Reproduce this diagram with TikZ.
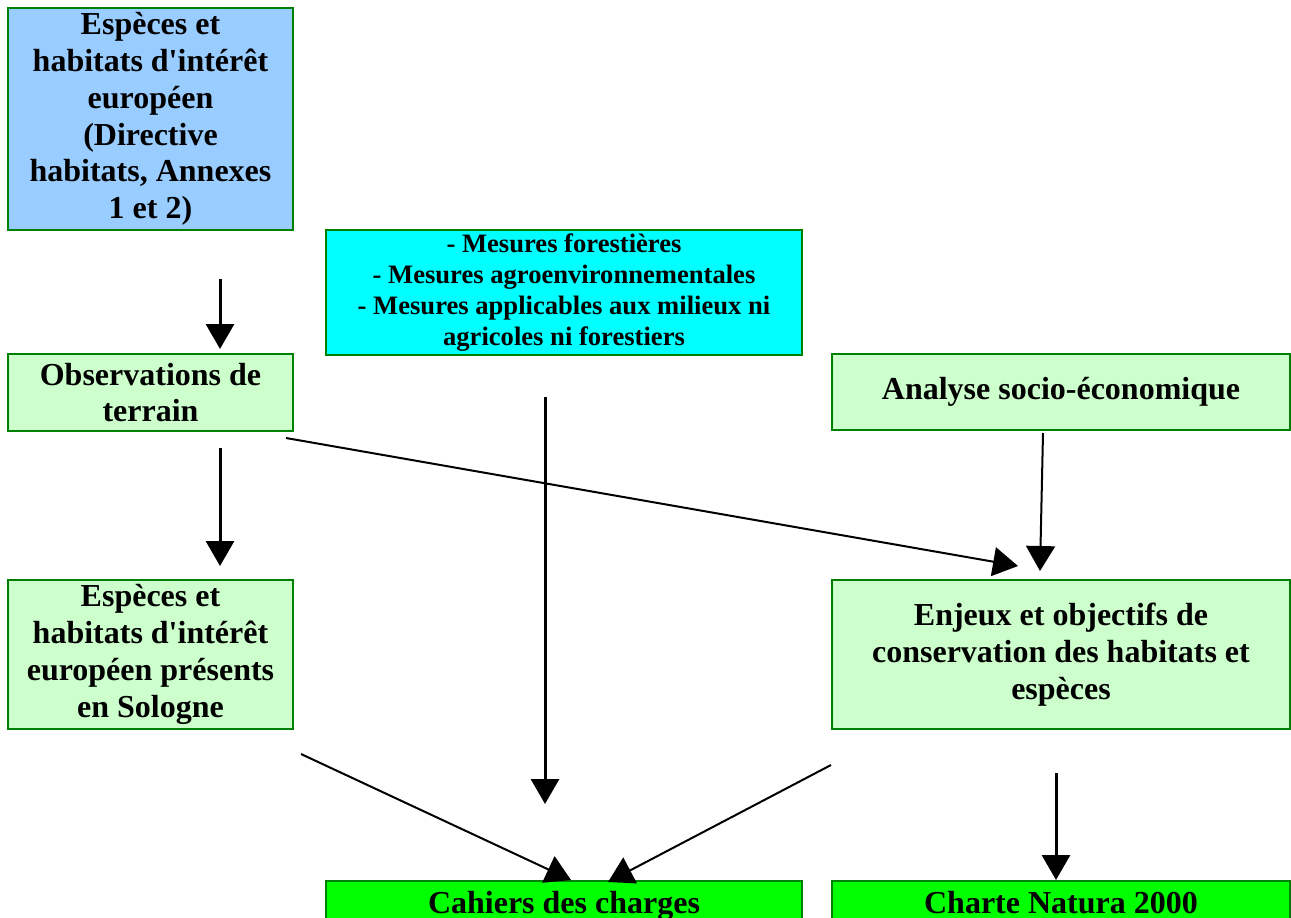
\documentclass[tikz,border=0pt]{standalone}
\usepackage{fontspec}
\setmainfont{Liberation Serif}
\usetikzlibrary{arrows.meta,calc}

\definecolor{cadre}{RGB}{0,128,0}
\definecolor{bleuclair}{HTML}{99CCFF}
\definecolor{turquoise}{HTML}{00FFFF}
\definecolor{vertpale}{HTML}{CCFFCC}
\definecolor{vertvif}{HTML}{00FF00}

\begin{document}
\begin{tikzpicture}[x=0.5pt,y=-0.5pt,
  boite/.style={draw=cadre, line width=1pt, align=center, inner sep=0pt,
    font=\fontsize{16}{18.4}\selectfont\bfseries},
  pale/.style={boite, fill=vertpale},
  vif/.style={boite, fill=vertvif, anchor=north, text height=16pt, text depth=20pt},
  fleche/.style={-{Triangle[length=12.5pt,width=14pt]}, line width=1.5pt},
  trait/.style={-{Triangle[length=12.5pt,width=14.5pt]}, line width=1pt}]
\useasboundingbox (0,0) rectangle (1291,917);

% boites
\node[boite, fill=bleuclair, minimum width=142.5pt, minimum height=111pt] (especes) at (150.5,119)
  {Espèces et\\habitats d\textquotesingle intérêt\\européen\\(Directive\\habitats, Annexes\\1 et 2)};
\node[boite, fill=turquoise, minimum width=238pt, minimum height=62.5pt,
  font=\fontsize{13.3}{15.6}\selectfont\bfseries] (mesures) at (564,292.5)
  {- Mesures forestières\\- Mesures agroenvironnementales\\- Mesures applicables aux milieux ni\\agricoles ni forestiers};
\node[pale, minimum width=142.5pt, minimum height=38.5pt] (observations) at (150.5,392.5)
  {Observations de\\terrain};
\node[pale, minimum width=229pt, minimum height=38pt] (analyse) at (1061,392)
  {Analyse socio-économique};
\node[pale, minimum width=142.5pt, minimum height=74.5pt] (presents) at (150.5,654.5)
  {Espèces et\\habitats d\textquotesingle intérêt\\européen présents\\en Sologne};
\node[pale, minimum width=229pt, minimum height=74.5pt] (enjeux) at (1061,654.5)
  {Enjeux et objectifs de\\conservation des habitats et\\espèces};
\node[vif, minimum width=238pt] (cahiers) at (564,880) {Cahiers des charges};
\node[vif, minimum width=229pt] (charte) at (1061,880) {Charte Natura 2000};

% fleches
\draw[fleche] ($(especes.south)+(69.5,48)$) -- ($(observations.north)+(69.5,-4)$);
\draw[fleche] ($(observations.south)+(69.5,16)$) -- ($(presents.north)+(69.5,-13)$);
\draw[trait] ($(observations.south east)+(-8,6)$) -- ($(enjeux.north)+(-43,-13)$);
\draw[trait] ($(analyse.south)+(-18,2)$) -- ($(enjeux.north)+(-21,-8)$);
\draw[fleche] ($(mesures.south)+(-19,41)$) -- ($(cahiers.north)+(-19,-76)$);
\draw[trait] ($(presents.south east)+(7,24)$) -- ($(cahiers.north)+(7,0)$);
\draw[trait] ($(enjeux.south west)+(0,35)$) -- ($(cahiers.north)+(44,2)$);
\draw[fleche] ($(enjeux.south)+(-5,43)$) -- ($(charte.north)+(-5,0)$);
\end{tikzpicture}
\end{document}
